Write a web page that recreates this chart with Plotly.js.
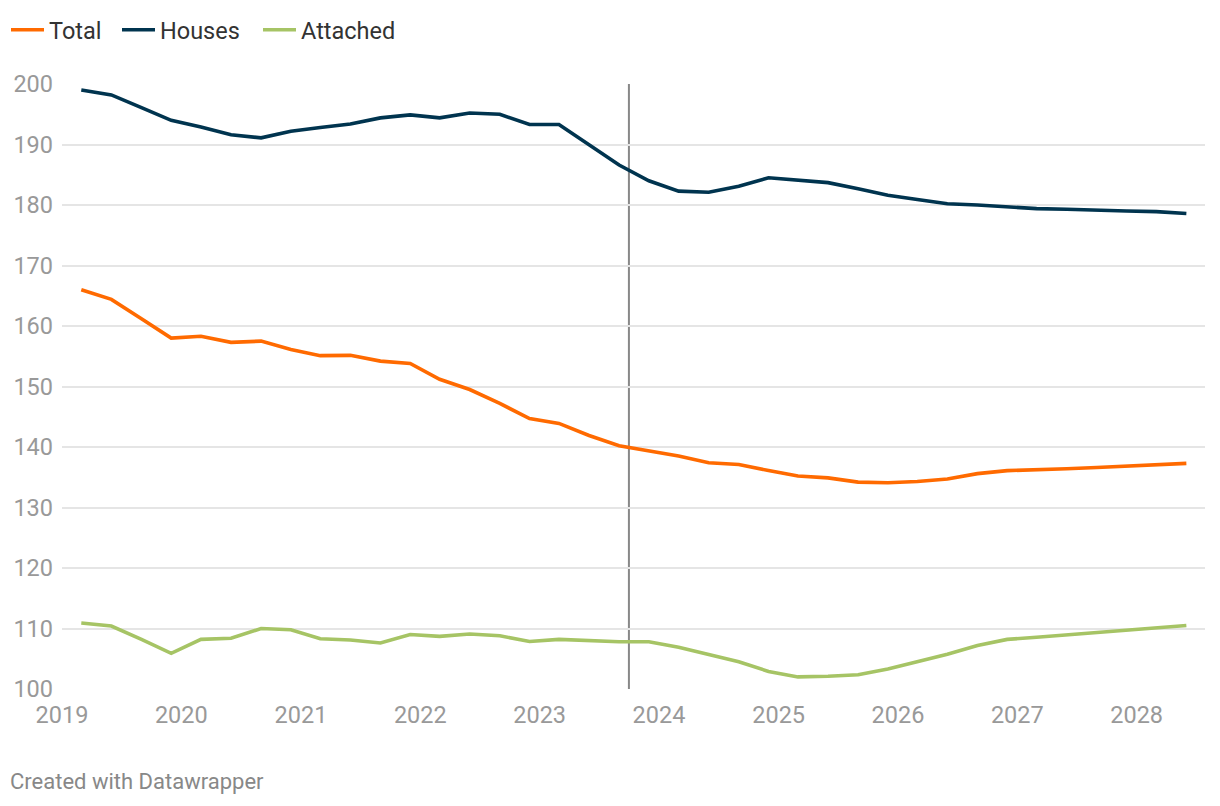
<!DOCTYPE html>
<html>
<head>
<meta charset="utf-8">
<script src="https://cdn.plot.ly/plotly-3.0.1.min.js"></script>
<style>
  html, body { margin: 0; padding: 0; background: #fff; }
  #chart { width: 1220px; height: 806px; }
</style>
</head>
<body>
<div id="chart"></div>
<script>
// Quarterly dates (Mar, Jun, Sep, Dec) 2019 Q1 – 2028 Q2
const dates = [
  '2019-03-01','2019-06-01','2019-09-01','2019-12-01',
  '2020-03-01','2020-06-01','2020-09-01','2020-12-01',
  '2021-03-01','2021-06-01','2021-09-01','2021-12-01',
  '2022-03-01','2022-06-01','2022-09-01','2022-12-01',
  '2023-03-01','2023-06-01','2023-09-01','2023-12-01',
  '2024-03-01','2024-06-01','2024-09-01','2024-12-01',
  '2025-03-01','2025-06-01','2025-09-01','2025-12-01',
  '2026-03-01','2026-06-01','2026-09-01','2026-12-01',
  '2027-03-01','2027-06-01','2027-09-01','2027-12-01',
  '2028-03-01','2028-06-01'
];

const total = [
  166.0, 164.4, 161.2, 158.0,
  158.3, 157.3, 157.5, 156.1,
  155.1, 155.15, 154.2, 153.8,
  151.2, 149.5, 147.2, 144.7,
  143.9, 141.9, 140.2, 139.3,
  138.5, 137.4, 137.1, 136.1,
  135.2, 134.9, 134.2, 134.1,
  134.3, 134.7, 135.6, 136.1,
  136.2, 136.4, 136.6, 136.8,
  137.0, 137.3
];

const houses = [
  199.0, 198.2, 196.1, 194.0,
  192.9, 191.6, 191.1, 192.2,
  192.8, 193.4, 194.4, 194.9,
  194.4, 195.2, 195.0, 193.3,
  193.3, 190.0, 186.6, 184.0,
  182.3, 182.1, 183.1, 184.5,
  184.1, 183.7, 182.7, 181.6,
  180.9, 180.2, 180.0, 179.7,
  179.4, 179.3, 179.1, 179.0,
  178.9, 178.6
];

const attached = [
  110.9, 110.4, 108.2, 105.9,
  108.2, 108.4, 110.0, 109.8,
  108.3, 108.1, 107.6, 109.0,
  108.7, 109.1, 108.8, 107.85,
  108.2, 108.0, 107.8, 107.8,
  106.9, 105.7, 104.5, 102.9,
  102.0, 102.1, 102.35, 103.3,
  104.55, 105.75, 107.2, 108.2,
  108.55, 108.95, 109.3, 109.6,
  110.05, 110.5
];

const seriesNames = ['Total', 'Houses', 'Attached'];
const yearTickVals = ['2019-01-01','2020-01-01','2021-01-01','2022-01-01','2023-01-01',
                      '2024-01-01','2025-01-01','2026-01-01','2027-01-01','2028-01-01'];
const yearTickText = ['2019','2020','2021','2022','2023','2024','2025','2026','2027','2028'];
const yTickVals = [100,110,120,130,140,150,160,170,180,190,200];
const markerDate = '2023-10-01';

const FONT = 'Roboto, "Noto Sans", sans-serif';
const PLOT_L = 62, PLOT_W = 1143, PLOT_T = 84, PLOT_H = 605;
const px2x = p => (p - PLOT_L) / PLOT_W;
const py2y = p => 1 + (PLOT_T - p) / PLOT_H;

function lineTrace(name, y, color, legendId) {
  return {
    type: 'scatter', mode: 'lines', name: name,
    x: dates, y: y, legend: legendId,
    line: { color: color, width: 3.6, shape: 'linear' },
    hoverinfo: 'skip'
  };
}

const data = [
  lineTrace(seriesNames[0], total, '#ff6a00', 'legend'),
  lineTrace(seriesNames[1], houses, '#00344f', 'legend2'),
  lineTrace(seriesNames[2], attached, '#a6c465', 'legend3')
];

function legendAt(pxLeft) {
  return {
    orientation: 'h', x: px2x(pxLeft), xanchor: 'left', y: py2y(30), yanchor: 'middle',
    font: { family: FONT, size: 23.5, color: '#333333' },
    bgcolor: 'rgba(0,0,0,0)', borderwidth: 0, itemwidth: 33
  };
}

const layout = {
  width: 1220, height: 806,
  margin: { l: PLOT_L, r: 1220 - PLOT_L - PLOT_W, t: PLOT_T, b: 806 - PLOT_T - PLOT_H, pad: 0, autoexpand: false },
  paper_bgcolor: '#ffffff', plot_bgcolor: '#ffffff',
  font: { family: FONT, size: 24, color: '#999999' },
  showlegend: true,
  legend: legendAt(6),
  legend2: legendAt(117),
  legend3: legendAt(258),
  xaxis: {
    type: 'date',
    range: ['2019-01-01', '2028-07-28'],
    tickmode: 'array', tickvals: yearTickVals, ticktext: yearTickText,
    showgrid: false, zeroline: false, showline: false,
    ticks: '', ticklabelstandoff: 9,
    tickfont: { family: FONT, size: 23.5, color: '#999999' },
    fixedrange: true
  },
  yaxis: {
    range: [100, 200],
    tickmode: 'array', tickvals: yTickVals,
    showgrid: true, gridcolor: '#e5e5e5', gridwidth: 2,
    zeroline: false, showline: false, ticks: '', ticklabelstandoff: 8,
    tickfont: { family: FONT, size: 23.5, color: '#999999' },
    fixedrange: true
  },
  shapes: [{
    type: 'line', xref: 'x', yref: 'paper',
    x0: markerDate, x1: markerDate, y0: 0, y1: 1,
    line: { color: '#888888', width: 2 },
    layer: 'below'
  }],
  annotations: [{
    text: 'Created with Datawrapper',
    xref: 'paper', yref: 'paper',
    x: px2x(8), xanchor: 'left', y: py2y(781), yanchor: 'middle',
    showarrow: false,
    font: { family: FONT, size: 22, color: '#888888' }
  }]
};

Plotly.newPlot('chart', data, layout, { displayModeBar: false, staticPlot: true });
</script>
</body>
</html>
